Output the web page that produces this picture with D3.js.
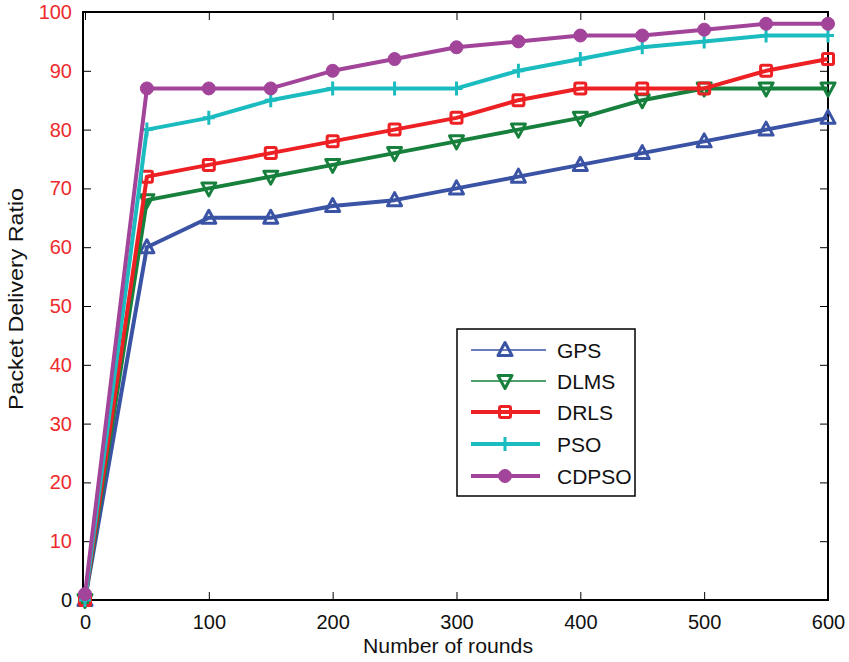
<!DOCTYPE html>
<html>
<head>
<meta charset="utf-8">
<script src="https://cdn.jsdelivr.net/npm/d3@7"></script>
<style>
  html, body { margin: 0; padding: 0; background: #fff; }
  svg { display: block; font-family: "Liberation Sans", Arial, Helvetica, sans-serif; }
</style>
</head>
<body>
<svg id="chart" width="849" height="662"></svg>
<script>
// Number of rounds
const rounds = [0, 50, 100, 150, 200, 250, 300, 350, 400, 450, 500, 550, 600];

// Packet delivery ratio for each scheme
const gps   = [0, 60, 65, 65, 67, 68, 70, 72, 74, 76, 78, 80, 82];
const dlms  = [0, 68, 70, 72, 74, 76, 78, 80, 82, 85, 87, 87, 87];
const drls  = [0, 72, 74, 76, 78, 80, 82, 85, 87, 87, 87, 90, 92];
const pso   = [0, 80, 82, 85, 87, 87, 87, 90, 92, 94, 95, 96, 96];
const cdpso = [1, 87, 87, 87, 90, 92, 94, 95, 96, 96, 97, 98, 98];

const seriesNames = ["GPS", "DLMS", "DRLS", "PSO", "CDPSO"];
const xTicks = [0, 100, 200, 300, 400, 500, 600];
const yTicks = [0, 10, 20, 30, 40, 50, 60, 70, 80, 90, 100];

const series = [
  { name: seriesNames[0], values: gps,   color: "#3a53a4", marker: "up",     legendWidth: 1.3 },
  { name: seriesNames[1], values: dlms,  color: "#16803c", marker: "down",   legendWidth: 1.3 },
  { name: seriesNames[2], values: drls,  color: "#ed2024", marker: "square", legendWidth: 4 },
  { name: seriesNames[3], values: pso,   color: "#1bbcc0", marker: "plus",   legendWidth: 4 },
  { name: seriesNames[4], values: cdpso, color: "#a2449a", marker: "circle", legendWidth: 4 }
];

const svg = d3.select("#chart");
const plotLeft = 83, plotRight = 828, plotTop = 12, plotBottom = 600;

const x = d3.scaleLinear().domain([-1.6, 600]).range([plotLeft, plotRight]);
const y = d3.scaleLinear().domain([0, 100]).range([plotBottom, plotTop]);

const labelRed = "#ee2a2d";

// Bottom axis
svg.append("g")
  .attr("transform", `translate(0,${plotBottom})`)
  .call(d3.axisBottom(x).tickValues(xTicks).tickSize(-8).tickPadding(15).tickFormat(d3.format("d")))
  .call(g => g.select(".domain").remove())
  .call(g => g.selectAll("line").attr("stroke", "#000").attr("stroke-width", 1))
  .call(g => g.selectAll("text").attr("font-size", 20).attr("fill", "#111").attr("font-family", "Liberation Sans, Arial, sans-serif"));

// Top ticks
svg.append("g")
  .attr("transform", `translate(0,${plotTop})`)
  .call(d3.axisTop(x).tickValues(xTicks).tickSize(-8).tickFormat(""))
  .call(g => g.select(".domain").remove())
  .call(g => g.selectAll("line").attr("stroke", "#000"));

// Left axis
svg.append("g")
  .attr("transform", `translate(${plotLeft},0)`)
  .call(d3.axisLeft(y).tickValues(yTicks).tickSize(-8).tickPadding(11).tickFormat(d3.format("d")))
  .call(g => g.select(".domain").remove())
  .call(g => g.selectAll("line").attr("stroke", "#000"))
  .call(g => g.selectAll("text")
    .attr("font-size", 20)
    .attr("font-family", "Liberation Sans, Arial, sans-serif")
    .attr("fill", d => d === 0 ? "#111" : labelRed));

// Right ticks
svg.append("g")
  .attr("transform", `translate(${plotRight},0)`)
  .call(d3.axisRight(y).tickValues(yTicks).tickSize(-8).tickFormat(""))
  .call(g => g.select(".domain").remove())
  .call(g => g.selectAll("line").attr("stroke", "#000"));

// Frame
svg.append("rect")
  .attr("x", plotLeft).attr("y", plotTop)
  .attr("width", plotRight - plotLeft).attr("height", plotBottom - plotTop)
  .attr("fill", "none").attr("stroke", "#000").attr("stroke-width", 2);

// Axis titles
svg.append("text")
  .attr("x", 448).attr("y", 653)
  .attr("text-anchor", "middle")
  .attr("font-size", 20)
  .attr("textLength", 170).attr("lengthAdjust", "spacingAndGlyphs")
  .attr("fill", "#111")
  .text("Number of rounds");

svg.append("text")
  .attr("transform", "translate(23,299) rotate(-90)")
  .attr("text-anchor", "middle")
  .attr("font-size", 21)
  .attr("textLength", 222).attr("lengthAdjust", "spacingAndGlyphs")
  .attr("fill", "#111")
  .text("Packet Delivery Ratio");

// Marker drawing
function drawMarker(g, type, color, cx, cy) {
  if (type === "up") {
    g.append("path")
      .attr("d", `M${cx},${cy - 7.5} L${cx + 7},${cy + 5.5} L${cx - 7},${cy + 5.5} Z`)
      .attr("fill", "none").attr("stroke", color).attr("stroke-width", 3).attr("stroke-linejoin", "round");
  } else if (type === "down") {
    g.append("path")
      .attr("d", `M${cx},${cy + 7.5} L${cx + 7},${cy - 5.5} L${cx - 7},${cy - 5.5} Z`)
      .attr("fill", "none").attr("stroke", color).attr("stroke-width", 3).attr("stroke-linejoin", "round");
  } else if (type === "square") {
    g.append("rect")
      .attr("x", cx - 5.5).attr("y", cy - 5.5).attr("width", 11).attr("height", 11).attr("rx", 1.5)
      .attr("fill", "none").attr("stroke", color).attr("stroke-width", 3);
  } else if (type === "plus") {
    g.append("path")
      .attr("d", `M${cx - 6},${cy} L${cx + 6},${cy} M${cx},${cy - 7} L${cx},${cy + 7}`)
      .attr("fill", "none").attr("stroke", color).attr("stroke-width", 3);
  } else if (type === "circle") {
    g.append("circle")
      .attr("cx", cx).attr("cy", cy).attr("r", 6.5)
      .attr("fill", color).attr("stroke", color).attr("stroke-width", 1);
  }
}

const line = d3.line().x((d, i) => x(rounds[i])).y(d => y(d));

const plot = svg.append("g");
series.forEach(s => {
  const g = plot.append("g");
  g.append("path")
    .datum(s.values)
    .attr("d", line)
    .attr("fill", "none")
    .attr("stroke", s.color)
    .attr("stroke-width", 4)
    .attr("stroke-linejoin", "round");
  s.values.forEach((v, i) => drawMarker(g, s.marker, s.color, x(rounds[i]), y(v)));
});

// Legend
const legend = svg.append("g");
legend.append("rect")
  .attr("x", 457).attr("y", 329).attr("width", 178).attr("height", 167)
  .attr("fill", "#fff").attr("stroke", "#000").attr("stroke-width", 1.5);

const legendY = [350, 381, 412, 444, 476];
series.forEach((s, i) => {
  const ly = legendY[i];
  const x2 = s.legendWidth > 2 ? 540 : 546;
  legend.append("line")
    .attr("x1", 471).attr("x2", x2).attr("y1", ly).attr("y2", ly)
    .attr("stroke", s.color).attr("stroke-width", s.legendWidth);
  drawMarker(legend, s.marker, s.color, 505, ly);
  legend.append("text")
    .attr("x", 557).attr("y", ly + 8)
    .attr("font-size", 21)
    .attr("fill", "#111")
    .text(s.name);
});
</script>
</body>
</html>
